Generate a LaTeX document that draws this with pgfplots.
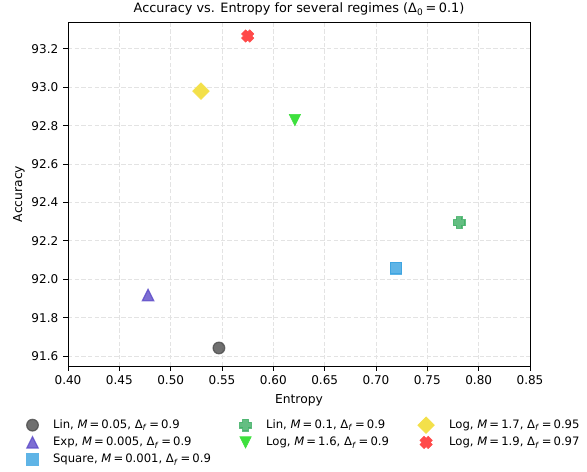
\documentclass[border=0pt]{standalone}
\usepackage{fontspec}
\setmainfont{DejaVu Sans}
\usepackage{pgfplots}
\pgfplotsset{compat=1.18}

\definecolor{cLin}{RGB}{76,76,76}
\definecolor{cExp}{RGB}{92,74,200}
\definecolor{cSq}{RGB}{55,161,224}
\definecolor{cLinB}{RGB}{61,174,99}
\definecolor{cLogA}{RGB}{61,224,61}
\definecolor{cLogB}{RGB}{243,224,74}
\definecolor{cLogC}{RGB}{255,74,74}

% filled plus (matplotlib "P"); rotated 45 it gives the filled x ("X")
\pgfdeclareplotmark{fplus}{%
  \pgfpathmoveto{\pgfqpoint{-0.5\pgfplotmarksize}{-\pgfplotmarksize}}%
  \pgfpathlineto{\pgfqpoint{-0.5\pgfplotmarksize}{-0.5\pgfplotmarksize}}%
  \pgfpathlineto{\pgfqpoint{-\pgfplotmarksize}{-0.5\pgfplotmarksize}}%
  \pgfpathlineto{\pgfqpoint{-\pgfplotmarksize}{0.5\pgfplotmarksize}}%
  \pgfpathlineto{\pgfqpoint{-0.5\pgfplotmarksize}{0.5\pgfplotmarksize}}%
  \pgfpathlineto{\pgfqpoint{-0.5\pgfplotmarksize}{\pgfplotmarksize}}%
  \pgfpathlineto{\pgfqpoint{0.5\pgfplotmarksize}{\pgfplotmarksize}}%
  \pgfpathlineto{\pgfqpoint{0.5\pgfplotmarksize}{0.5\pgfplotmarksize}}%
  \pgfpathlineto{\pgfqpoint{\pgfplotmarksize}{0.5\pgfplotmarksize}}%
  \pgfpathlineto{\pgfqpoint{\pgfplotmarksize}{-0.5\pgfplotmarksize}}%
  \pgfpathlineto{\pgfqpoint{0.5\pgfplotmarksize}{-0.5\pgfplotmarksize}}%
  \pgfpathlineto{\pgfqpoint{0.5\pgfplotmarksize}{-\pgfplotmarksize}}%
  \pgfpathclose
  \pgfusepathqfillstroke}
% matplotlib-style triangle (as wide as high)
\pgfdeclareplotmark{mtri}{%
  \pgfpathmoveto{\pgfqpoint{0pt}{\pgfplotmarksize}}%
  \pgfpathlineto{\pgfqpoint{-\pgfplotmarksize}{-\pgfplotmarksize}}%
  \pgfpathlineto{\pgfqpoint{\pgfplotmarksize}{-\pgfplotmarksize}}%
  \pgfpathclose
  \pgfusepathqfillstroke}

\newcommand{\eq}{\hspace{0.18em}=\hspace{0.18em}}
\newcommand{\Df}{Δ\textsubscript{\textit{f}}}

\pgfplotsset{
  pt/.style={only marks, color=#1,
    mark options={fill=#1, draw=#1, fill opacity=0.8, draw opacity=0.8, line width=0.9pt}},
}

\begin{document}
\begin{tikzpicture}
\begin{axis}[
    scale only axis,
    width=4.62in, height=3.44in,
    xmin=0.40, xmax=0.85,
    ymin=91.548, ymax=93.34,
    xtick={0.40,0.45,...,0.851},
    ytick={91.6,91.8,...,93.21},
    xticklabel style={/pgf/number format/.cd, fixed, fixed zerofill, precision=2},
    yticklabel style={/pgf/number format/.cd, fixed, fixed zerofill, precision=1},
    /pgf/number format/assume math mode=true,
    ticklabel style={font=\fontsize{8.7}{10}\selectfont},
    tick align=outside,
    xtick pos=left, ytick pos=left,
    major tick length=3.5pt,
    tick style={black, line width=0.6pt},
    axis line style={line width=0.6pt},
    grid=major,
    major grid style={gray!22, dash pattern=on 3.2pt off 1.6pt, line width=0.6pt},
    xlabel={Entropy},
    ylabel={Accuracy},
    ylabel style={xshift=0pt, yshift=-2pt},
    label style={font=\fontsize{8.9}{10}\selectfont},
    title={Accuracy vs. Entropy for several regimes (Δ\textsubscript{0}\eq 0.1)},
    title style={font=\fontsize{9.3}{11}\selectfont, yshift=-4.8pt},
    legend columns=3,
    legend image code/.code={\draw plot coordinates {(0cm,0cm)};},
    legend style={draw=none, fill=none, inner sep=0pt, at={(-0.09,-0.147)}, anchor=north west,
      font=\fontsize{8.4}{10}\selectfont, row sep=0.6pt,
      nodes={inner sep=2pt},
      /tikz/every odd column/.append style={column sep=0.12in},
      /tikz/every even column/.append style={column sep=0.26in}},
    legend cell align=left,
]
\addplot[pt=cLin, mark=*, mark size=4.2pt] coordinates {(0.547,91.642)};
\addlegendentry{Lin, \textit{M}\eq 0.05, \Df\eq 0.9}
\addplot[pt=cLinB, mark=fplus, mark size=4.2pt] coordinates {(0.781,92.295)};
\addlegendentry{Lin, \textit{M}\eq 0.1, \Df\eq 0.9}
\addplot[pt=cLogB, mark=square*, mark size=4.25pt, mark options={rotate=45}] coordinates {(0.5295,92.98)};
\addlegendentry{Log, \textit{M}\eq 1.7, \Df\eq 0.95}
\addplot[pt=cExp, mark=mtri, mark size=4.1pt] coordinates {(0.478,91.918)};
\addlegendentry{Exp, \textit{M}\eq 0.005, \Df\eq 0.9}
\addplot[pt=cLogA, mark=mtri, mark size=4.1pt, mark options={rotate=180}] coordinates {(0.621,92.829)};
\addlegendentry{Log, \textit{M}\eq 1.6, \Df\eq 0.9}
\addplot[pt=cLogC, mark=fplus, mark size=4.2pt, mark options={rotate=45}] coordinates {(0.575,93.267)};
\addlegendentry{Log, \textit{M}\eq 1.9, \Df\eq 0.97}
\addplot[pt=cSq, mark=square*, mark size=4.2pt] coordinates {(0.7195,92.058)};
\addlegendentry{Square, \textit{M}\eq 0.001, \Df\eq 0.9}
\end{axis}
\pgfresetboundingbox
\path[use as bounding box] ([shift={(-0.68in,-1.05in)}]current axis.south west)
  rectangle ([shift={(0.57in,0.22in)}]current axis.north east);
\end{tikzpicture}
\end{document}
